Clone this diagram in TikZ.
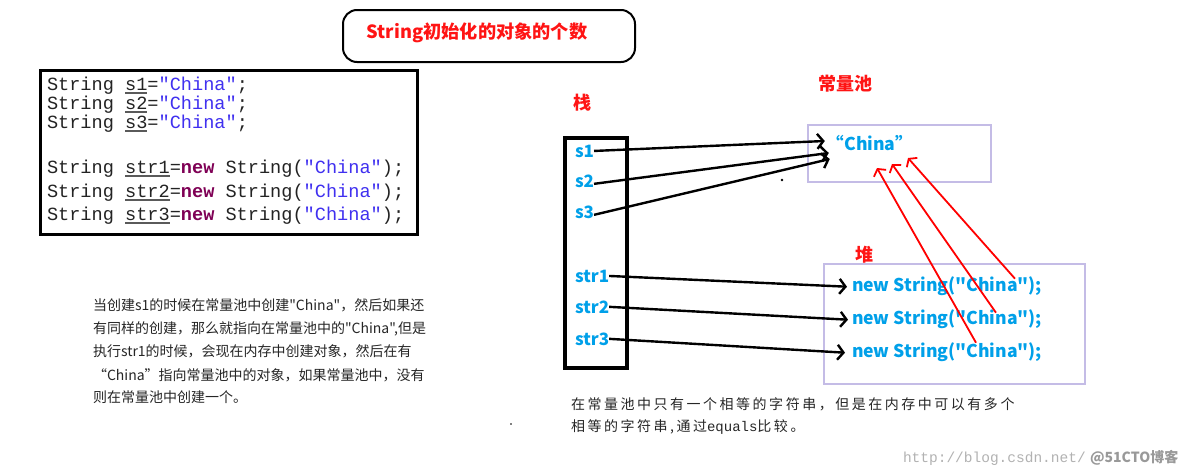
\documentclass[tikz,border=0pt]{standalone}
\usepackage{fontspec}
\setmonofont{Liberation Mono}
\newfontfamily\cjk{Noto Sans CJK SC}
\newfontfamily\cjksp[LetterSpace=18]{Noto Sans CJK SC}
\usetikzlibrary{arrows.meta,calc}
\definecolor{titlered}{RGB}{255,20,20}
\definecolor{cy}{RGB}{0,160,233}
\definecolor{strblue}{RGB}{64,48,240}
\definecolor{kw}{RGB}{127,0,85}
\definecolor{lav}{RGB}{196,188,230}
\definecolor{ulg}{RGB}{90,90,90}
\definecolor{codeblack}{RGB}{35,35,35}
\newcommand\ulcode[1]{\setbox0\hbox{#1}\rlap{\color{ulg}\rule[-4pt]{\wd0}{1.6pt}}\box0}
\newcommand\jstr[1]{\textcolor{strblue}{#1}}
\newcommand\jnew{{\bfseries\color{kw}new}}
\tikzset{
  codeline/.style={anchor=base west, font=\ttfamily\fontsize{18.6}{20}\selectfont, text=codeblack},
  stk/.style={anchor=base west, font=\cjk\bfseries\fontsize{17}{20}\selectfont, text=cy},
  heaptxt/.style={anchor=base west, font=\cjk\bfseries\fontsize{17.6}{20}\selectfont, text=cy},
  redlbl/.style={font=\cjk\bfseries\fontsize{18}{20}\selectfont, text=titlered},
  para/.style={anchor=base west, font=\cjk\fontsize{14}{20}\selectfont, text=black!85},
  bpara/.style={anchor=base west, font=\cjksp\fontsize{14}{20}\selectfont, text=black!85},
  barrow/.style={line width=2.4pt, -{Straight Barb[length=6pt,width=15pt]}},
  rarrow/.style={draw=red, line width=1.8pt, -{Straight Barb[length=5pt,width=14pt]}},
  thinbox/.style={draw=lav, line width=2.5pt, minimum width=#1},
}
\begin{document}
\begin{tikzpicture}[x=1pt,y=-1pt, every node/.style={inner sep=0pt, outer sep=0pt}]
\fill[white] (0,0) rectangle (1184,474);
\useasboundingbox (0,0) rectangle (1184,474);

% title
\draw[line width=2pt, rounded corners=14pt] (343,10) rectangle (635,62);
\node[redlbl, font=\cjk\bfseries\fontsize{18.2}{20}\selectfont] (title) at (477,33) {String初始化的对象的个数};

% code box
\node[draw, line width=3pt, minimum width=377pt, minimum height=164pt] (code) at (228.5,152) {};
\node[codeline] (c1) at (47,90) {String \ulcode{s1}=\jstr{"China"};};
\node[codeline] (c2) at (47,109) {String \ulcode{s2}=\jstr{"China"};};
\node[codeline] (c3) at (47,128) {String \ulcode{s3}=\jstr{"China"};};
\node[codeline] (c4) at (47,173) {String \ulcode{str1}=\jnew{} String(\jstr{"China"});};
\node[codeline] (c5) at (47,197) {String \ulcode{str2}=\jnew{} String(\jstr{"China"});};
\node[codeline] (c6) at (47,220) {String \ulcode{str3}=\jnew{} String(\jstr{"China"});};

% left paragraph
\node[para] (p1) at (93,310) {当创建s1的时候在常量池中创建"China"，然后如果还};
\node[para] (p2) at (93,333) {有同样的创建，那么就指向在常量池中的"China",但是};
\node[para] (p3) at (93,356) {执行str1的时候，会现在内存中创建对象，然后在有};
\node[para] (p4) at (93,380) {“China”指向常量池中的对象，如果常量池中，没有};
\node[para] (p5) at (93,402) {则在常量池中创建一个。};

% stack
\node[redlbl] (stacklbl) at (582,103) {栈};
\node[draw, line width=4pt, minimum width=62pt, minimum height=230pt] (stack) at (596,253) {};
\node[stk] (s1) at (575,157) {s1};
\node[stk] (s2) at (575,187) {s2};
\node[stk] (s3) at (575,218) {s3};
\node[stk] (str1) at (575,282) {str1};
\node[stk] (str2) at (575,313) {str2};
\node[stk] (str3) at (575,345) {str3};

% constant pool
\node[redlbl] (poollbl) at (845,84) {常量池};
\node[thinbox=183pt, minimum height=57pt] (pool) at (899.5,153.5) {};
\node[stk, anchor=center, font=\cjk\bfseries\fontsize{17.6}{20}\selectfont] (pc) at (870,143) {“China”};

% heap
\node[redlbl] (heaplbl) at (864,255) {堆};
\node[thinbox=261pt, minimum height=120pt] (heap) at (954.5,324) {};
\node[heaptxt] (h1) at (852,291) {new String("China");};
\node[heaptxt] (h2) at (852,324) {new String("China");};
\node[heaptxt] (h3) at (852,357) {new String("China");};

% black arrows
\draw[barrow] (s1.east) -- ([xshift=-2pt,yshift=2pt]pc.west);
\draw[barrow] ([yshift=-3pt]s2.east) -- ([xshift=2pt,yshift=-10pt]pc.west);
\draw[barrow] ([yshift=-3pt]s3.east) -- ([xshift=3pt,yshift=-16pt]pc.west);
\draw[barrow] (str1.east) -- ([xshift=-5pt,yshift=-1pt]h1.west);
\draw[barrow] (str2.east) -- ([xshift=-4pt,yshift=-1pt]h2.west);
\draw[barrow] (str3.east) -- ([xshift=-7pt,yshift=-1pt]h3.west);

% red arrows
\coordinate (r1s) at ($(h1.west)+(163,-7)$);
\coordinate (r2s) at ($(h2.west)+(144,-6)$);
\coordinate (r3s) at ($(h3.west)+(124,-9)$);
\coordinate (r1t) at ($(pc.center)+(38,15)$);
\coordinate (r2t) at ($(pc.center)+(22,21)$);
\coordinate (r3t) at ($(pc.center)+(7,25)$);
\draw[rarrow] (r1s) -- (r1t);
\draw[rarrow] (r2s) -- (r2t);
\draw[rarrow] (r3s) -- (r3t);

% bottom text
\node[bpara] (b1) at (571,409) {在常量池中只有一个相等的字符串，但是在内存中可以有多个};
\node[bpara] (b2) at (571,431) {相等的字符串,通过{\ttfamily equals}比较。};

% stray dots
\fill (782,180) circle (1.3pt);
\fill (511,424) circle (0.8pt);

% watermark
\node[anchor=base west, font=\ttfamily\fontsize{14.5}{16}\selectfont, text=black!30] (wm1) at (903,462) {http://blog.csdn.net/};
\node[anchor=base west, font=\cjk\bfseries\fontsize{14}{16}\selectfont, text=black!40] (wm2) at (1090,462) {@51CTO博客};
\end{tikzpicture}
\end{document}
